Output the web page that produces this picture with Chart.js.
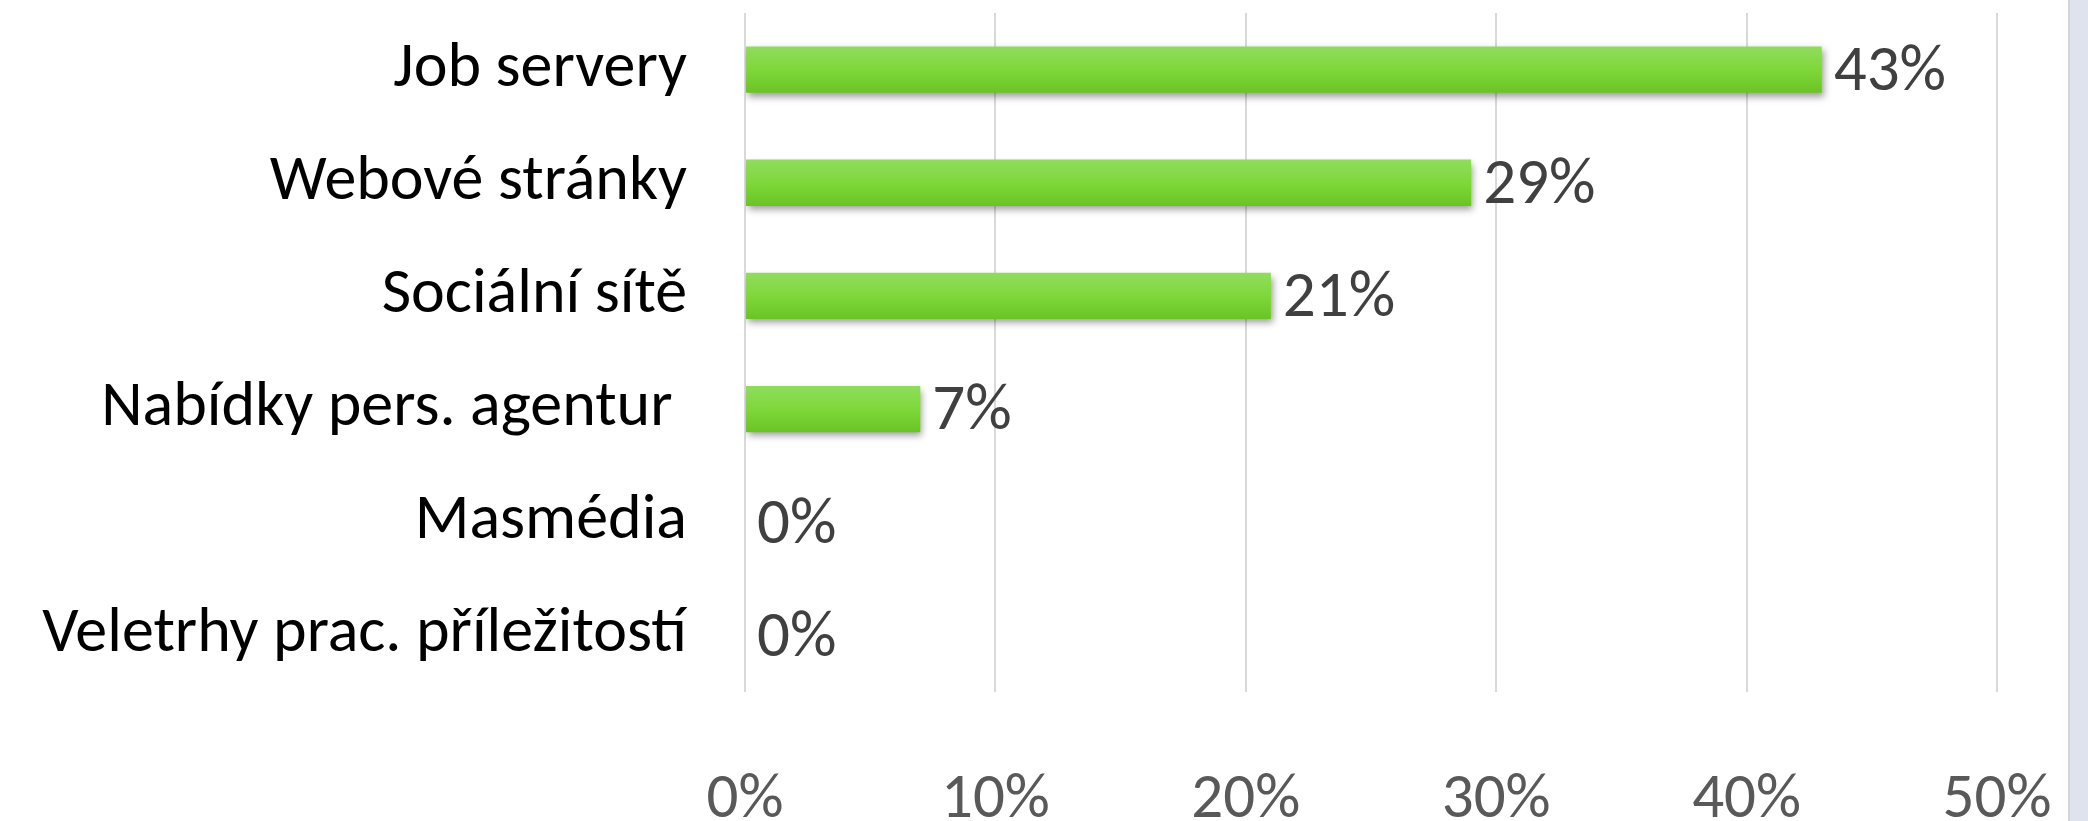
<!DOCTYPE html>
<html>
<head>
<meta charset="utf-8">
<script src="https://cdn.jsdelivr.net/npm/chart.js@4/dist/chart.umd.min.js"></script>
<style>
  html, body { margin: 0; padding: 0; background: #fff; }
  #wrap { position: relative; width: 2088px; height: 821px; overflow: hidden; }
  #box { position: absolute; left: 0; top: 0; width: 2068px; height: 821px; }
  #strip { position: absolute; left: 2068px; top: 0; width: 20px; height: 821px;
           background: #dfe3ed; border-left: 2px solid #d2d4d8; box-sizing: border-box; }
</style>
</head>
<body>
<div id="wrap">
  <div id="box"><canvas id="myChart"></canvas></div>
  <div id="strip"></div>
</div>
<script>
const categories = [
  'Job servery',
  'Webové stránky',
  'Sociální sítě',
  'Nabídky pers. agentur ',
  'Masmédia',
  'Veletrhy prac. příležitostí'
];
const shares = [43, 29, 21, 7, 0, 0];
const tickValues = [0, 10, 20, 30, 40, 50];

const labelFont = 'Carlito, Lato, sans-serif';

function barFill(c) {
  const chart = c.chart;
  const y = chart.scales && chart.scales.y;
  if (!y || c.dataIndex === undefined) return '#7ed63a';
  const mid = y.getPixelForValue(c.dataIndex);
  if (!isFinite(mid)) return '#7ed63a';
  const g = chart.ctx.createLinearGradient(0, mid - 23, 0, mid + 23);
  g.addColorStop(0, '#90dc5e');
  g.addColorStop(0.5, '#7fd83a');
  g.addColorStop(1, '#6bc424');
  return g;
}

// soft drop shadow under the bars
const barShadow = {
  id: 'barShadow',
  beforeDatasetsDraw(chart) {
    const ctx = chart.ctx;
    ctx.save();
    ctx.shadowColor = 'rgba(0,0,0,0.38)';
    ctx.shadowBlur = 7;
    ctx.shadowOffsetX = 2;
    ctx.shadowOffsetY = 4;
  },
  afterDatasetsDraw(chart) {
    chart.ctx.restore();
  }
};

// value labels at the end of each bar
const valueLabels = {
  id: 'valueLabels',
  afterDraw(chart) {
    const ctx = chart.ctx;
    const meta = chart.getDatasetMeta(0);
    ctx.save();
    ctx.font = '65px ' + labelFont;
    ctx.fillStyle = '#404040';
    ctx.textAlign = 'left';
    ctx.textBaseline = 'middle';
    meta.data.forEach((bar, i) => {
      ctx.fillText(shares[i] + '%', bar.x + 12, bar.y + 4);
    });
    ctx.restore();
  }
};

const ctx = document.querySelector('#myChart');
new Chart(ctx, {
  type: 'bar',
  data: {
    labels: categories,
    datasets: [{
      data: shares,
      backgroundColor: barFill,
      borderWidth: 0,
      categoryPercentage: 1,
      barPercentage: 0.41
    }]
  },
  options: {
    indexAxis: 'y',
    responsive: true,
    maintainAspectRatio: false,
    animation: false,
    layout: {
      padding: { top: 13, right: 71, bottom: 0, left: 0 }
    },
    scales: {
      x: {
        min: 0,
        max: 50,
        afterFit: s => {
          s.height = 129;
          s.paddingLeft = 0;
          s.paddingRight = 0;
        },
        afterBuildTicks: s => { s.ticks = tickValues.map(v => ({ value: v })); },
        ticks: {
          color: '#595959',
          padding: 71,
          maxRotation: 0,
          font: { family: labelFont, size: 63 },
          callback: v => v + '%'
        },
        grid: {
          color: '#d9d9d9',
          lineWidth: 2,
          drawTicks: false
        },
        border: { display: false }
      },
      y: {
        afterFit: s => {
          s.width = 745;
          s.paddingTop = 0;
          s.paddingBottom = 0;
        },
        ticks: {
          color: '#000',
          padding: 58,
          font: { family: labelFont, size: 64 }
        },
        grid: { display: false, drawTicks: false },
        border: { display: false }
      }
    },
    plugins: {
      legend: { display: false },
      tooltip: { enabled: false }
    }
  },
  plugins: [barShadow, valueLabels]
});
</script>
</body>
</html>
